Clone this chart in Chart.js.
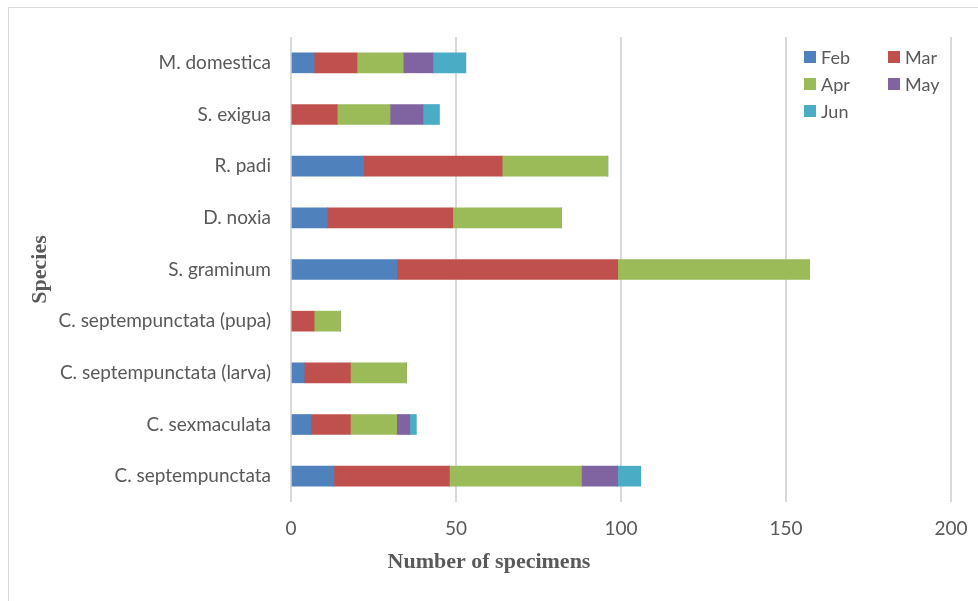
<!DOCTYPE html>
<html>
<head>
<meta charset="utf-8">
<script src="https://cdn.jsdelivr.net/npm/chart.js@4.4.1/dist/chart.umd.min.js"></script>
<style>
  html, body { margin: 0; padding: 0; background: #fff; }
  #wrap { position: relative; width: 978px; height: 601px; overflow: hidden; }
  #frame { position: absolute; left: 8px; top: 7px; width: 1000px; height: 620px;
           border-left: 1px solid #d9d9d9; border-top: 1px solid #d9d9d9; }
  #c { position: absolute; left: 0; top: 0; }
</style>
</head>
<body>
<div id="wrap">
  <div id="frame"></div>
  <canvas id="c" width="978" height="601"></canvas>
</div>
<script>
// Species, listed top to bottom
const species = [
  'M. domestica',
  'S. exigua',
  'R. padi',
  'D. noxia',
  'S. graminum',
  'C. septempunctata (pupa)',
  'C. septempunctata (larva)',
  'C. sexmaculata',
  'C. septempunctata'
];

// Specimens collected per month
const feb = [7, 0, 22, 11, 32, 0, 4, 6, 13];
const mar = [13, 14, 42, 38, 67, 7, 14, 12, 35];
const apr = [14, 16, 32, 33, 58, 8, 17, 14, 40];
const may = [9, 10, 0, 0, 0, 0, 0, 4, 11];
const jun = [10, 5, 0, 0, 0, 0, 0, 2, 7];

const months = ['Feb', 'Mar', 'Apr', 'May', 'Jun'];
const monthColors = ['#4F81BD', '#C0504D', '#9BBB59', '#8064A2', '#4BACC6'];
const xTicks = [0, 50, 100, 150, 200];

const textGrey = '#595959';
const sansFont = 'Lato, "Open Sans", sans-serif';
const serifFont = '"Liberation Serif", "DejaVu Serif", serif';

const series = [feb, mar, apr, may, jun];

// Two-column legend in the upper right of the plot
const gridLegend = {
  id: 'gridLegend',
  afterDraw(chart) {
    const ctx = chart.ctx;
    const x0 = 804, y0 = 57, colW = 84, rowH = 27, box = 12;
    ctx.save();
    ctx.font = '18px ' + sansFont;
    ctx.textBaseline = 'middle';
    ctx.textAlign = 'left';
    chart.data.datasets.forEach((ds, i) => {
      const col = i % 2, row = Math.floor(i / 2);
      const x = x0 + col * colW, y = y0 + row * rowH;
      ctx.fillStyle = ds.backgroundColor;
      ctx.fillRect(x, y - box / 2, box, box);
      ctx.fillStyle = textGrey;
      ctx.fillText(ds.label, x + box + 5, y + 1);
    });
    ctx.restore();
  }
};

// Horizontal axis title, centred on the whole figure
const xAxisTitle = {
  id: 'xAxisTitle',
  afterDraw(chart) {
    const ctx = chart.ctx;
    ctx.save();
    ctx.font = 'bold 22px ' + serifFont;
    ctx.fillStyle = textGrey;
    ctx.textAlign = 'center';
    ctx.textBaseline = 'middle';
    ctx.fillText('Number of specimens', 489, 562);
    ctx.restore();
  }
};

new Chart(document.getElementById('c'), {
  type: 'bar',
  data: {
    labels: species,
    datasets: months.map((m, i) => ({
      label: m,
      data: series[i],
      backgroundColor: monthColors[i],
      borderWidth: 0,
      barThickness: 20
    }))
  },
  options: {
    indexAxis: 'y',
    responsive: false,
    animation: false,
    devicePixelRatio: 1,
    layout: { padding: { left: 0, top: 37, right: 27, bottom: 0 } },
    plugins: {
      legend: { display: false },
      tooltip: { enabled: false }
    },
    scales: {
      x: {
        stacked: true,
        min: 0,
        max: 200,
        afterBuildTicks(scale) { scale.ticks = xTicks.map(v => ({ value: v })); },
        afterFit(scale) {
          scale.height = 99;
          scale.paddingLeft = 0;
          scale.paddingRight = 0;
        },
        grid: { color: '#d9d9d9', lineWidth: 2, drawTicks: false },
        border: { display: false },
        ticks: { color: textGrey, font: { family: sansFont, size: 19 }, padding: 15 }
      },
      y: {
        stacked: true,
        afterFit(scale) { scale.width = 291; },
        grid: { display: false, drawTicks: false },
        border: { display: false },
        ticks: { color: textGrey, font: { family: sansFont, size: 19 }, padding: 20 },
        title: {
          display: true,
          text: 'Species',
          color: textGrey,
          font: { family: serifFont, size: 22, weight: 'bold' },
          padding: { top: 27, bottom: 0 }
        }
      }
    }
  },
  plugins: [gridLegend, xAxisTitle]
});
</script>
</body>
</html>
